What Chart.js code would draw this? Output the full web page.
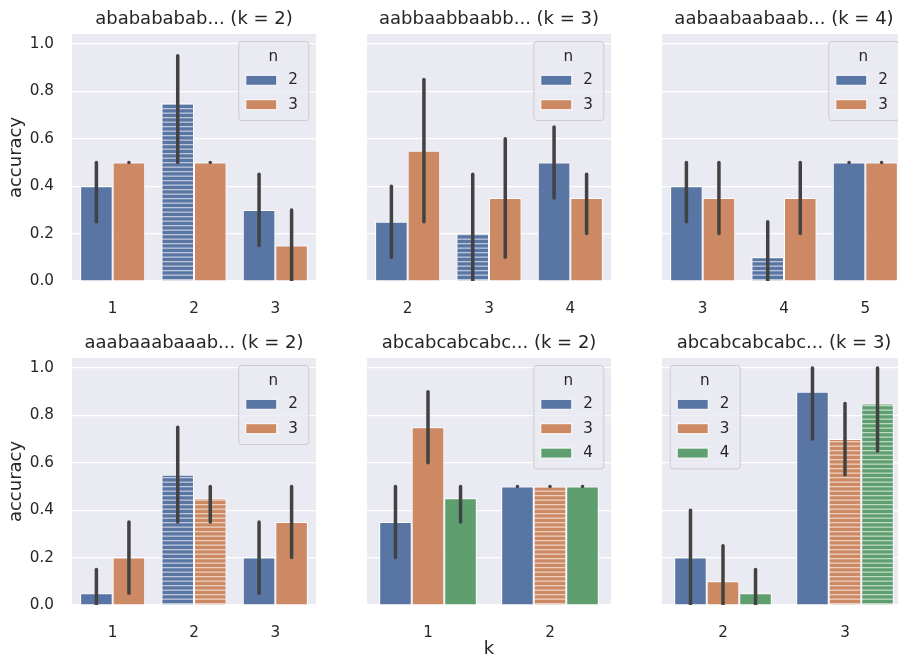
<!DOCTYPE html>
<html>
<head>
<meta charset="utf-8">
<script src="https://cdn.jsdelivr.net/npm/chart.js@4.4.0/dist/chart.umd.min.js"></script>
<style>
  body { margin: 0; background: #fff; }
  #fig { position: relative; width: 898px; height: 661px; overflow: hidden; }
  #fig canvas { position: absolute; }
</style>
</head>
<body>
<div id="fig"></div>
<script>
// hue levels (n) and their colours
const hueLabels = ["2", "3", "4"];
const hueColors = ["#5975A4", "#CC8963", "#5F9E6E"];

// panel A: ababababab... (k = 2)
const catsA = ["1", "2", "3"];
const accA = [[0.4, 0.75, 0.3], [0.5, 0.5, 0.15]];
const loA = [[0.25, 0.5, 0.15], [0.5, 0.5, 0.0]];
const hiA = [[0.5, 0.95, 0.45], [0.5, 0.5, 0.3]];
const hatchA = [[0, 1, 0], [0, 0, 0]];

// panel B: aabbaabbaabb... (k = 3)
const catsB = ["2", "3", "4"];
const accB = [[0.25, 0.2, 0.5], [0.55, 0.35, 0.35]];
const loB = [[0.1, 0.0, 0.35], [0.25, 0.1, 0.2]];
const hiB = [[0.4, 0.45, 0.65], [0.85, 0.6, 0.45]];
const hatchB = [[0, 1, 0], [0, 0, 0]];

// panel C: aabaabaabaab... (k = 4)
const catsC = ["3", "4", "5"];
const accC = [[0.4, 0.1, 0.5], [0.35, 0.35, 0.5]];
const loC = [[0.25, 0.0, 0.5], [0.2, 0.2, 0.5]];
const hiC = [[0.5, 0.25, 0.5], [0.5, 0.5, 0.5]];
const hatchC = [[0, 1, 0], [0, 0, 0]];

// panel D: aaabaaabaaab... (k = 2)
const catsD = ["1", "2", "3"];
const accD = [[0.05, 0.55, 0.2], [0.2, 0.45, 0.35]];
const loD = [[0.0, 0.35, 0.05], [0.05, 0.35, 0.2]];
const hiD = [[0.15, 0.75, 0.35], [0.35, 0.5, 0.5]];
const hatchD = [[0, 1, 0], [0, 1, 0]];

// panel E: abcabcabcabc... (k = 2)
const catsE = ["1", "2"];
const accE = [[0.35, 0.5], [0.75, 0.5], [0.45, 0.5]];
const loE = [[0.2, 0.5], [0.6, 0.5], [0.35, 0.5]];
const hiE = [[0.5, 0.5], [0.9, 0.5], [0.5, 0.5]];
const hatchE = [[0, 0], [0, 1], [0, 0]];

// panel F: abcabcabcabc... (k = 3)
const catsF = ["2", "3"];
const accF = [[0.2, 0.9], [0.1, 0.7], [0.05, 0.85]];
const loF = [[0.0, 0.7], [0.0, 0.55], [0.0, 0.65]];
const hiF = [[0.4, 1.0], [0.25, 0.85], [0.15, 1.0]];
const hatchF = [[0, 0], [0, 1], [0, 1]];

const yTicks = [0, 0.2, 0.4, 0.6, 0.8, 1.0];

const panels = [
  { title: "ababababab... (k = 2)", cats: catsA, acc: accA, lo: loA, hi: hiA, hatch: hatchA, legend: "right" },
  { title: "aabbaabbaabb... (k = 3)", cats: catsB, acc: accB, lo: loB, hi: hiB, hatch: hatchB, legend: "right" },
  { title: "aabaabaabaab... (k = 4)", cats: catsC, acc: accC, lo: loC, hi: hiC, hatch: hatchC, legend: "right" },
  { title: "aaabaaabaaab... (k = 2)", cats: catsD, acc: accD, lo: loD, hi: hiD, hatch: hatchD, legend: "right" },
  { title: "abcabcabcabc... (k = 2)", cats: catsE, acc: accE, lo: loE, hi: hiE, hatch: hatchE, legend: "right" },
  { title: "abcabcabcabc... (k = 3)", cats: catsF, acc: accF, lo: loF, hi: hiF, hatch: hatchF, legend: "left" },
];

Chart.defaults.font.family = "'DejaVu Sans', sans-serif";
Chart.defaults.color = "#262626";

const plotLeft = [72, 367, 662];
const plotTop = [34, 358];
const plotW = 244, plotH = 247;
const padTop = 34, padBottom = 56;

function makeHatch(color) {
  const c = document.createElement("canvas");
  c.width = 8;
  c.height = 9;
  const g = c.getContext("2d");
  g.fillStyle = color;
  g.fillRect(0, 0, 8, 9);
  g.fillStyle = "rgba(255,255,255,0.6)";
  g.fillRect(0, 0, 8, 1.3);
  g.fillRect(0, 4.5, 8, 1.3);
  return g.createPattern(c, "repeat");
}

const background = {
  id: "background",
  beforeDraw(chart) {
    const a = chart.chartArea;
    chart.ctx.save();
    chart.ctx.fillStyle = "#EAEAF2";
    chart.ctx.fillRect(a.left, a.top, a.right - a.left, a.bottom - a.top);
    chart.ctx.restore();
  },
};

const errorBars = {
  id: "errorBars",
  afterDatasetsDraw(chart) {
    const ctx = chart.ctx, a = chart.chartArea, y = chart.scales.y;
    ctx.save();
    ctx.beginPath();
    ctx.rect(a.left, a.top, a.right - a.left, a.bottom - a.top);
    ctx.clip();
    ctx.strokeStyle = "#424242";
    ctx.lineWidth = 3.5;
    ctx.lineCap = "round";
    chart.data.datasets.forEach((ds, i) => {
      chart.getDatasetMeta(i).data.forEach((bar, j) => {
        ctx.beginPath();
        ctx.moveTo(bar.x, y.getPixelForValue(ds.errLo[j]));
        ctx.lineTo(bar.x, y.getPixelForValue(ds.errHi[j]));
        ctx.stroke();
      });
    });
    ctx.restore();
  },
};

const nLegend = {
  id: "nLegend",
  afterDraw(chart, args, opts) {
    const ctx = chart.ctx, a = chart.chartArea;
    const sets = chart.data.datasets;
    const w = 70, h = 79 + 24.4 * (sets.length - 2);
    const x0 = opts.side === "left" ? a.left + 7.7 : a.right - 7.7 - w;
    const y0 = a.top + 7;
    ctx.save();
    ctx.fillStyle = "rgba(234,234,242,0.8)";
    ctx.strokeStyle = "#CCCCCC";
    ctx.lineWidth = 1;
    ctx.beginPath();
    ctx.roundRect(x0 + 0.5, y0 + 0.5, w, h, 3);
    ctx.fill();
    ctx.stroke();
    ctx.fillStyle = "#262626";
    ctx.font = "15.2px 'DejaVu Sans'";
    ctx.textAlign = "center";
    ctx.textBaseline = "middle";
    ctx.fillText("n", x0 + w / 2, y0 + 16);
    ctx.textAlign = "left";
    sets.forEach((ds, i) => {
      const cy = y0 + 39.3 + 24.4 * i;
      ctx.fillStyle = ds.legendColor;
      ctx.fillRect(x0 + 7.5, cy - 5, 31, 10);
      ctx.strokeStyle = "#fff";
      ctx.strokeRect(x0 + 7.5, cy - 5, 31, 10);
      ctx.fillStyle = "#262626";
      ctx.fillText(ds.label, x0 + 50, cy);
    });
    ctx.restore();
  },
};

const fig = document.getElementById("fig");

panels.forEach((p, idx) => {
  const col = idx % 3, row = Math.floor(idx / 3);
  const padLeft = col === 0 ? 72 : 12;
  const cv = document.createElement("canvas");
  cv.width = padLeft + plotW;
  cv.height = padTop + plotH + padBottom;
  cv.style.left = (plotLeft[col] - padLeft) + "px";
  cv.style.top = (plotTop[row] - padTop) + "px";
  fig.appendChild(cv);

  const datasets = p.acc.map((vals, h) => ({
    label: hueLabels[h],
    data: vals,
    errLo: p.lo[h],
    errHi: p.hi[h],
    legendColor: hueColors[h],
    backgroundColor: p.hatch[h].map(f => (f ? makeHatch(hueColors[h]) : hueColors[h])),
    borderColor: "#ffffff",
    borderWidth: 1,
    categoryPercentage: 0.8,
    barPercentage: 1.0,
  }));

  new Chart(cv, {
    type: "bar",
    data: { labels: p.cats, datasets: datasets },
    plugins: [background, errorBars, nLegend],
    options: {
      responsive: false,
      animation: false,
      layout: { padding: 0 },
      plugins: {
        legend: { display: false },
        tooltip: { enabled: false },
        title: {
          display: true,
          text: p.title,
          fullSize: false,
          color: "#262626",
          font: { size: 18, weight: "normal" },
          padding: { top: 8.6, bottom: 3.8 },
        },
        nLegend: { side: p.legend },
      },
      scales: {
        x: {
          grid: { display: false },
          border: { display: false },
          ticks: { font: { size: 15.2 }, padding: 11 },
          title: { display: idx === 4, text: "k", font: { size: 18 }, padding: { top: 0, bottom: 0.5 } },
          afterFit: s => { s.height = padBottom; },
        },
        y: {
          min: 0,
          max: 1.042,
          afterBuildTicks: s => { s.ticks = yTicks.map(v => ({ value: v })); },
          grid: { color: "#ffffff", lineWidth: 1.2, drawTicks: false },
          border: { display: false },
          ticks: {
            display: col === 0,
            font: { size: 15.2 },
            padding: 18,
            callback: v => v.toFixed(1),
          },
          title: { display: col === 0, text: "accuracy", font: { size: 18 }, padding: { top: 5.2, bottom: 0 } },
          afterFit: s => { s.width = padLeft; },
        },
      },
    },
  });
});
</script>
</body>
</html>
